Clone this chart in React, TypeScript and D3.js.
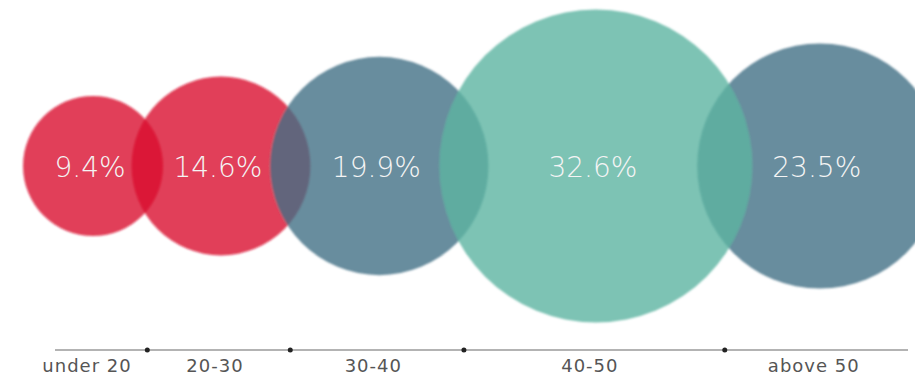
import React, { useEffect, useRef } from 'react';
import * as d3 from 'd3';

// age groups and their share
const categories = ['under 20', '20-30', '30-40', '40-50', 'above 50'];
const shares = [9.4, 14.6, 19.9, 32.6, 23.5];
const colors = ['#d90e2e', '#d90e2e', '#426f86', '#5db4a1', '#426f86'];

interface Bubble {
  label: string;
  value: number;
  color: string;
  cx: number;
  r: number;
}

const App: React.FC = () => {
  const svgRef = useRef<SVGSVGElement>(null);

  useEffect(() => {
    if (!svgRef.current) return;

    const svg = d3.select(svgRef.current);
    svg.selectAll('*').remove();

    const width = 915;
    const height = 379;
    const centerY = 166;
    const axisY = 350;
    const axisStart = 55;
    const axisEnd = 908;
    const leftPad = 23;
    const overlapFrac = 0.45;

    // Radius scale
    const rScale = d3.scaleLinear()
      .domain([0, 32.6])
      .range([35, 156.5]);

    // Chain the circles left to right, each one overlapping its neighbour
    const bubbles: Bubble[] = [];
    categories.forEach((label, i) => {
      const r = rScale(shares[i]);
      let cx = leftPad + r;
      if (i > 0) {
        const prev = bubbles[i - 1];
        const overlap = overlapFrac * Math.min(prev.r, r);
        cx = prev.cx + prev.r + r - overlap;
      }
      bubbles.push({ label, value: shares[i], color: colors[i], cx, r });
    });

    svg.append('rect')
      .attr('width', width)
      .attr('height', height)
      .attr('fill', '#ffffff');

    const defs = svg.append('defs');
    defs.append('filter')
      .attr('id', 'soft')
      .attr('x', '-10%').attr('y', '-10%')
      .attr('width', '120%').attr('height', '120%')
      .append('feGaussianBlur')
      .attr('stdDeviation', 0.9);

    // Draw bubbles, smaller ones first so bigger ones sit on top
    const ordered = [...bubbles].sort((a, b) => a.value - b.value);
    svg.append('g')
      .attr('filter', 'url(#soft)')
      .selectAll('circle')
      .data(ordered)
      .join('circle')
      .attr('cx', d => d.cx)
      .attr('cy', centerY)
      .attr('r', d => d.r)
      .attr('fill', d => d.color)
      .attr('fill-opacity', 0.8);

    // Percentage labels
    svg.append('g')
      .selectAll('text')
      .data(bubbles)
      .join('text')
      .attr('x', d => d.cx - 3)
      .attr('y', centerY + 11)
      .attr('text-anchor', 'middle')
      .attr('font-family', '"DejaVu Sans", sans-serif')
      .attr('font-weight', 300)
      .attr('font-size', 28)
      .attr('fill', '#f4f4f4')
      .text(d => `${d.value}%`);

    // Axis line
    svg.append('line')
      .attr('x1', axisStart)
      .attr('x2', axisEnd)
      .attr('y1', axisY)
      .attr('y2', axisY)
      .attr('stroke', '#9a9a9a')
      .attr('stroke-width', 1.5);

    // Separator dots halfway through each overlap
    const separators = d3.pairs(bubbles).map(([a, b]) => ((a.cx + a.r) + (b.cx - b.r)) / 2);
    svg.append('g')
      .selectAll('circle')
      .data(separators)
      .join('circle')
      .attr('cx', d => d)
      .attr('cy', axisY)
      .attr('r', 2.5)
      .attr('fill', '#222');

    // Category labels
    svg.append('g')
      .selectAll('text')
      .data(bubbles)
      .join('text')
      .attr('x', d => d.cx - 6)
      .attr('y', axisY + 22)
      .attr('text-anchor', 'middle')
      .attr('font-family', '"DejaVu Sans", sans-serif')
      .attr('font-size', 18)
      .attr('letter-spacing', 1)
      .attr('fill', '#555')
      .text(d => d.label);
  }, []);

  return (
    <svg
      ref={svgRef}
      width="915"
      height="379"
      style={{ position: 'absolute', left: 0, top: 0, display: 'block' }}
    ></svg>
  );
};

export default App;
